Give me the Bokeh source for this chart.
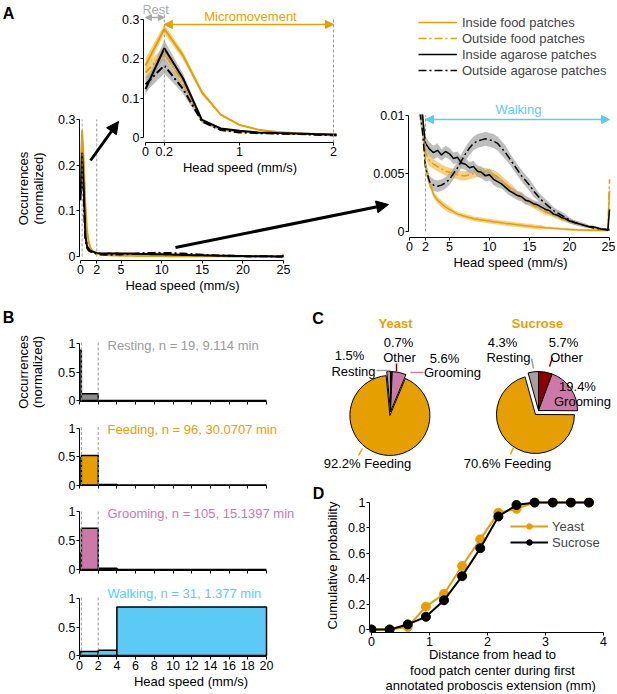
import math
from bokeh.plotting import figure
from bokeh.models import (Range1d, FixedTicker, PrintfTickFormatter, Label, Arrow,
                          NormalHead, Legend, LegendItem, GridBox, Column)
from bokeh.embed import file_html
from bokeh.resources import INLINE

# ---------------- data ----------------
speed = [0.0, 0.2, 0.4, 0.6, 0.8, 1.0, 1.2, 1.4, 1.6, 1.8,
         2.0, 2.5, 3.0, 3.5, 4.0, 4.5, 5.0, 5.5, 6.0, 6.5, 7.0, 7.5, 8.0, 8.5, 9.0, 9.5,
         10.0, 10.5, 11.0, 11.5, 12.0, 12.5, 13.0, 13.5, 14.0, 14.5, 15.0, 15.5, 16.0, 16.5,
         17.0, 17.5, 18.0, 18.5, 19.0, 19.5, 20.0, 20.5, 21.0, 21.5, 22.0, 22.5, 23.0, 23.5,
         24.0, 24.5, 24.8, 25.0]
inside_food = [0.183, 0.276, 0.208, 0.115, 0.058, 0.032, 0.020, 0.014, 0.0105, 0.0085,
               0.0058, 0.0042, 0.0032, 0.0027, 0.0024, 0.0021, 0.0019, 0.0017, 0.0015, 0.0014, 0.0013, 0.0012, 0.0011, 0.00105, 0.0010, 0.00095,
               0.0009, 0.00085, 0.0008, 0.00075, 0.0007, 0.00066, 0.00062, 0.00058, 0.00054, 0.0005, 0.00046, 0.00042, 0.00039, 0.00036,
               0.00033, 0.0003, 0.00027, 0.00025, 0.00022, 0.0002, 0.00018, 0.00016, 0.00014, 0.00013, 0.00012, 0.00011, 0.0001, 0.0001,
               0.0001, 0.0001, 0.0001, 0.0035]
inside_food_sem = [0.018, 0.012, 0.010, 0.006, 0.003, 0.002, 0.0015, 0.001, 0.0006, 0.0005,
                   0.0004, 0.0003, 0.0003, 0.0003, 0.0003, 0.0003, 0.0003, 0.0002, 0.0002, 0.0002, 0.0002, 0.0002, 0.0002, 0.0002, 0.0002, 0.0002,
                   0.0002, 0.0002, 0.0002, 0.0002, 0.0002, 0.0002, 0.0002, 0.0002, 0.0002, 0.0002, 0.0002, 0.0002, 0.0002, 0.0002,
                   0.0001, 0.0001, 0.0001, 0.0001, 0.0001, 0.0001, 0.0001, 0.0001, 0.0001, 0.0001, 0.0001, 0.0001, 0.0001, 0.0001,
                   0.0001, 0.0001, 0.0001, 0.0003]
outside_food = [0.165, 0.215, 0.140, 0.042, 0.021, 0.015, 0.012, 0.0105, 0.0095, 0.0082,
                0.0068, 0.0061, 0.0058, 0.0056, 0.0054, 0.0052, 0.0051, 0.0050, 0.0049, 0.0048, 0.0048, 0.0049, 0.0050, 0.0051, 0.0051, 0.0051,
                0.0050, 0.0049, 0.0047, 0.0044, 0.0041, 0.0038, 0.0035, 0.0032, 0.0030, 0.0027, 0.0025, 0.0023, 0.0021, 0.0019,
                0.0017, 0.00155, 0.0014, 0.00125, 0.0011, 0.0010, 0.0009, 0.0008, 0.0007, 0.0006, 0.0005, 0.00045, 0.0004, 0.0003,
                0.00025, 0.0002, 0.0002, 0.0045]
outside_food_sem = [0.020, 0.015, 0.010, 0.004, 0.002, 0.0015, 0.001, 0.0008, 0.0006, 0.0005,
                    0.0005, 0.0005, 0.0004, 0.0004, 0.0004, 0.0004, 0.0004, 0.0004, 0.0004, 0.0004, 0.0004, 0.0004, 0.0004, 0.0004, 0.0004, 0.0004,
                    0.0004, 0.0004, 0.0004, 0.0004, 0.0004, 0.0004, 0.0004, 0.0003, 0.0003, 0.0003, 0.0003, 0.0003, 0.0003, 0.0003,
                    0.0003, 0.0002, 0.0002, 0.0002, 0.0002, 0.0002, 0.0002, 0.0002, 0.0001, 0.0001, 0.0001, 0.0001, 0.0001, 0.0001,
                    0.0001, 0.0001, 0.0001, 0.0008]
inside_agarose = [0.123, 0.227, 0.150, 0.045, 0.023, 0.017, 0.013, 0.0115, 0.0102, 0.0088,
                  0.0076, 0.0071, 0.0068, 0.0070, 0.0066, 0.0069, 0.0067, 0.0063, 0.0064, 0.0059, 0.0058, 0.0055, 0.0056, 0.0052, 0.0051, 0.0048,
                  0.0049, 0.0045, 0.0043, 0.0041, 0.0038, 0.0035, 0.0033, 0.0031, 0.0030, 0.0027, 0.0026, 0.0024, 0.0023, 0.0021,
                  0.0019, 0.0018, 0.0015, 0.0014, 0.0012, 0.0011, 0.0009, 0.0008, 0.0007, 0.0006, 0.0005, 0.0004, 0.0004, 0.0003,
                  0.0002, 0.0002, 0.0001, 0.0019]
inside_agarose_sem = [0.015, 0.020, 0.012, 0.004, 0.002, 0.0015, 0.001, 0.0008, 0.0006, 0.0005,
                      0.0006, 0.0006, 0.0006, 0.0006, 0.0005, 0.0005, 0.0005, 0.0005, 0.0005, 0.0005, 0.0005, 0.0005, 0.0005, 0.0005, 0.0005, 0.0005,
                      0.0005, 0.0005, 0.0005, 0.0004, 0.0004, 0.0004, 0.0004, 0.0004, 0.0004, 0.0004, 0.0003, 0.0003, 0.0003, 0.0003,
                      0.0003, 0.0003, 0.0002, 0.0002, 0.0002, 0.0002, 0.0002, 0.0002, 0.0002, 0.0001, 0.0001, 0.0001, 0.0001, 0.0001,
                      0.0001, 0.0001, 0.0001, 0.0003]
outside_agarose = [0.135, 0.183, 0.123, 0.041, 0.019, 0.013, 0.011, 0.0098, 0.0088, 0.0072,
                   0.0055, 0.0043, 0.0040, 0.0039, 0.0040, 0.0042, 0.0045, 0.0050, 0.0055, 0.0061, 0.0067, 0.0072, 0.0076, 0.0078, 0.0079, 0.0080,
                   0.0079, 0.0078, 0.0076, 0.0072, 0.0068, 0.0063, 0.0058, 0.0053, 0.0048, 0.0044, 0.0040, 0.0035, 0.0031, 0.0027,
                   0.0024, 0.0021, 0.0018, 0.0016, 0.0014, 0.0012, 0.0010, 0.0008, 0.0007, 0.0006, 0.0005, 0.0004, 0.0003, 0.00025,
                   0.0002, 0.00015, 0.00015, 0.00015]
outside_agarose_sem = [0.020, 0.020, 0.012, 0.004, 0.002, 0.0015, 0.001, 0.0008, 0.0006, 0.0005,
                       0.0005, 0.0005, 0.0005, 0.0005, 0.0005, 0.0005, 0.0005, 0.0005, 0.0005, 0.0006, 0.0006, 0.0006, 0.0006, 0.0006, 0.0006, 0.0006,
                       0.0006, 0.0006, 0.0006, 0.0006, 0.0006, 0.0005, 0.0005, 0.0005, 0.0005, 0.0005, 0.0005, 0.0005, 0.0004, 0.0004,
                       0.0004, 0.0004, 0.0003, 0.0003, 0.0003, 0.0003, 0.0002, 0.0002, 0.0002, 0.0002, 0.0002, 0.0001, 0.0001, 0.0001,
                       0.0001, 0.0001, 0.0001, 0.0001]
thresholds = [0.2, 2.0]
series_names = ["Inside food patches", "Outside food patches", "Inside agarose patches", "Outside agarose patches"]

bin_left = [0.0, 0.2, 2.0, 4.0]
bin_right = [0.2, 2.0, 4.0, 20.0]
resting_hist = [0.88, 0.12, 0.0, 0.0]
feeding_hist = [0.48, 0.52, 0.01, 0.0]
grooming_hist = [0.28, 0.71, 0.02, 0.0]
walking_hist = [0.07, 0.07, 0.09, 0.85]
behav_names = ["Resting", "Feeding", "Grooming", "Walking"]
behav_n = [19, 96, 105, 31]
behav_min = ["9.114", "30.0707", "15.1397", "1.377"]

pie_cats = ["Other", "Grooming", "Feeding", "Resting"]
yeast_pct = [0.7, 5.6, 92.2, 1.5]
sucrose_pct = [5.7, 19.4, 70.6, 4.3]

dist_mm = [0.0, 0.3125, 0.625, 0.9375, 1.25, 1.5625, 1.875, 2.1875, 2.5, 2.8125, 3.125, 3.4375, 3.75]
yeast_cum = [0.0, 0.0, 0.02, 0.18, 0.28, 0.50, 0.71, 0.92, 0.95, 1.0, 1.0, 1.0, 1.0]
sucrose_cum = [0.0, 0.0, 0.04, 0.10, 0.23, 0.42, 0.64, 0.89, 0.98, 1.0, 1.0, 1.0, 1.0]

# ---------------- style ----------------
FONT = "Liberation Sans"
TXT = "13px"
TICK = "12.5px"
ORANGE = "#E69F00"
ORANGE_BAND = "#F2C35A"
GRAY_BAND = "#A3A3A3"
PINK = "#CC79A7"
BLUE = "#5BCBF5"
DARKRED = "#8B0000"
PIE_GRAY = "#A0A0A0"
DASHGRAY = "#9A9A9A"
DASHDOT = "8 3 2 3"
pie_colors = [DARKRED, PINK, ORANGE, PIE_GRAY]

W, H = 615, 692
NAN = float("nan")


def lin(p0, v0, p1, v1, p):
    return v0 + (p - p0) * (v1 - v0) / (p1 - p0)


figs = []


def make(box, frame, xmap, ymap, register=True, **kw):
    L, T, R, B = box
    fl, ft, fr, fb = frame
    bl, bt = max(0, round(L)), max(0, round(T))
    br, bb = min(W, round(R)), min(H, round(B))
    l, t, r, b = round(fl), round(ft), round(fr), round(fb)
    fx = lambda X: lin(*xmap, X)
    fy = lambda Y: lin(*ymap, Y)
    p = figure(width=br - bl, height=bb - bt,
               min_border_left=l - bl, min_border_right=br - r,
               min_border_top=t - bt, min_border_bottom=bb - b,
               x_range=Range1d(fx(l), fx(r)), y_range=Range1d(fy(b), fy(t)),
               output_backend="svg", toolbar_location=None, **kw)
    p.background_fill_color = None
    p.border_fill_color = None
    p.outline_line_color = None
    p.grid.visible = False
    entry = (p, bl, bt, br, bb)
    if register:
        figs.append(entry)
    return p, fx, fy, entry


def style_axis(ax, ticks, bounds, labels=True, label=None):
    if labels:
        ax.ticker = FixedTicker(ticks=ticks)
        ax.major_tick_out = 3
        ax.minor_tick_line_color = None
    else:
        ax.ticker = FixedTicker(ticks=[], minor_ticks=ticks)
        ax.minor_tick_out = 3
        ax.minor_tick_in = 0
        ax.minor_tick_line_color = "black"
    ax.formatter = PrintfTickFormatter(format="%g")
    ax.bounds = bounds
    ax.major_tick_in = 0
    ax.axis_line_color = "black"
    ax.axis_line_width = 1
    ax.major_tick_line_color = "black"
    ax.major_label_text_font = FONT
    ax.major_label_text_font_size = TICK
    ax.major_label_text_color = "black"
    ax.major_label_standoff = 1
    if label:
        ax.axis_label = label
        ax.axis_label_text_font = FONT
        ax.axis_label_text_font_size = TXT
        ax.axis_label_text_font_style = "normal"
        ax.axis_label_text_color = "black"
        ax.axis_label_standoff = 1


def txt(p, x, y, s, color="black", size=TXT, align="center", baseline="middle", angle=0, style="normal"):
    p.add_layout(Label(x=x, y=y, text=s, text_color=color, text_font=FONT, text_font_size=size,
                       text_align=align, text_baseline=baseline, angle=angle, text_font_style=style))


def draw_speed(p, lw):
    def lo(m, s):
        return [a - b for a, b in zip(m, s)]

    def hi(m, s):
        return [a + b for a, b in zip(m, s)]
    p.varea(x=speed, y1=lo(inside_food, inside_food_sem), y2=hi(inside_food, inside_food_sem),
            fill_color=ORANGE_BAND, fill_alpha=0.75)
    p.varea(x=speed, y1=lo(outside_food, outside_food_sem), y2=hi(outside_food, outside_food_sem),
            fill_color=ORANGE_BAND, fill_alpha=0.75)
    p.varea(x=speed, y1=lo(inside_agarose, inside_agarose_sem), y2=hi(inside_agarose, inside_agarose_sem),
            fill_color=GRAY_BAND, fill_alpha=0.7)
    p.varea(x=speed, y1=lo(outside_agarose, outside_agarose_sem), y2=hi(outside_agarose, outside_agarose_sem),
            fill_color=GRAY_BAND, fill_alpha=0.7)
    p.line(speed, inside_food, line_color=ORANGE, line_width=lw)
    p.line(speed, outside_food, line_color=ORANGE, line_width=lw, line_dash=DASHDOT)
    p.line(speed, inside_agarose, line_color="black", line_width=lw)
    p.line(speed, outside_agarose, line_color="black", line_width=lw, line_dash=DASHDOT)


# overlay (created first, registered last so it sits on top); its units are page pixels
pO, fxO, fyO, overlay_entry = make((0, 0, W, H), (0, 0, W, H), (0, 0, 1, 1), (0, 0, 1, 1),
                                   register=False, x_axis_location=None, y_axis_location=None)

# ---------------- Panel A: main ----------------
pA, fxA, fyA, _ = make((0, 100, 300, 300), (79, 116, 285, 260), (80, 0, 283, 25), (256, 0, 119, 0.3))
draw_speed(pA, 2)
pA.segment(x0=thresholds, y0=[0, 0], x1=thresholds, y1=[0.3, 0.3], line_color=DASHGRAY, line_dash="3 2", line_width=1)
style_axis(pA.xaxis[0], [0, 2, 5, 10, 15, 20, 25], (0, 25), label="Head speed (mm/s)")
style_axis(pA.yaxis[0], [0, 0.1, 0.2, 0.3], (0, 0.3))
txt(pO, 23, 188, "Occurrences", angle=math.pi / 2)
txt(pO, 38, 188, "(normalized)", angle=math.pi / 2)

# ---------------- Panel A: inset ----------------
pI, fxI, fyI, _ = make((100, 0, 345, 182), (143, 1, 336, 142), (145, 0, 333, 2), (137, 0, 19, 0.3))
draw_speed(pI, 2)
pI.segment(x0=thresholds, y0=[fyI(142), fyI(142)], x1=thresholds, y1=[fyI(12), fyI(17)],
           line_color=DASHGRAY, line_dash="3 2", line_width=1)
style_axis(pI.xaxis[0], [0, 0.2, 1, 2], (0, 2), label="Head speed (mm/s)")
style_axis(pI.yaxis[0], [0, 0.1, 0.2, 0.3], (0, 0.3))
pI.add_layout(Arrow(x_start=0, y_start=fyI(17), x_end=thresholds[0], y_end=fyI(17),
                    line_color="#A8A8A8", line_width=1.5,
                    start=NormalHead(size=6, fill_color="#A8A8A8", line_color="#A8A8A8"),
                    end=NormalHead(size=6, fill_color="#A8A8A8", line_color="#A8A8A8")))
pI.add_layout(Arrow(x_start=thresholds[0], y_start=fyI(24), x_end=thresholds[1], y_end=fyI(24),
                    line_color=ORANGE, line_width=1.5,
                    start=NormalHead(size=8, fill_color=ORANGE, line_color=ORANGE),
                    end=NormalHead(size=8, fill_color=ORANGE, line_color=ORANGE)))
txt(pI, fxI(155), fyI(9), "Rest", color="#A8A8A8")
txt(pI, fxI(250), fyI(16), "Micromovement", color=ORANGE)

# ---------------- Panel A: walking zoom ----------------
pR, fxR, fyR, _ = make((340, 8, W, 280), (408, 114, 612, 237), (409, 0, 609, 25), (231, 0, 115, 0.01))
draw_speed(pR, 1.5)
pR.segment(x0=[thresholds[1]], y0=[0], x1=[thresholds[1]], y1=[0.01], line_color=DASHGRAY, line_dash="3 2", line_width=1)
style_axis(pR.xaxis[0], [0, 2, 5, 10, 15, 20, 25], (0, 25), label="Head speed (mm/s)")
style_axis(pR.yaxis[0], [0, 0.005, 0.01], (0, 0.01))
pR.add_layout(Arrow(x_start=thresholds[1], y_start=fyR(119), x_end=25, y_end=fyR(119),
                    line_color=BLUE, line_width=1.5,
                    start=NormalHead(size=8, fill_color=BLUE, line_color=BLUE),
                    end=NormalHead(size=8, fill_color=BLUE, line_color=BLUE)))
txt(pO, 518, 109, "Walking", color=BLUE)

# legend for panel A (legend glyphs only, placed on the overlay)
leg_styles = [(ORANGE, "solid"), (ORANGE, DASHDOT), ("black", "solid"), ("black", DASHDOT)]
leg_rs = [pO.line(x=[NAN], y=[NAN], line_color=c, line_width=1.5, line_dash=d) for c, d in leg_styles]
legA = Legend(items=[LegendItem(label=n, renderers=[r]) for n, r in zip(series_names, leg_rs)],
              location=(418, H - 78),
              glyph_width=39, glyph_height=14, label_height=16,
              label_standoff=5, spacing=0, padding=0, margin=0,
              label_text_font=FONT, label_text_font_size=TXT,
              border_line_color=None, background_fill_alpha=0)
pO.add_layout(legA)

# ---------------- Panel B ----------------
B_specs = [
    (resting_hist, (303, 412), (334, 401), (400, 343), "#8C8C8C", "#9A9A9A", 345),
    (feeding_hist, (412, 495), (418, 485), (484.5, 428), ORANGE, ORANGE, 429),
    (grooming_hist, (495, 580), (502, 570), (569, 511), PINK, PINK, 513),
    (walking_hist, (580, H), (588, 656), (655, 598), BLUE, BLUE, 593),
]
for i, (hist, (bt_, bb_), (ft_, fb_), (y0p, y1p), fill, tcol, ty) in enumerate(B_specs):
    p, fx, fy, _ = make((0, bt_, 305, bb_), (79, ft_, 302, fb_), (79, 0, 266, 20), (y0p, 0, y1p, 1))
    p.quad(left=bin_left, right=bin_right, bottom=[0] * len(hist), top=hist,
           fill_color=fill, line_color="black", line_width=1.5)
    p.segment(x0=thresholds, y0=[0, 0], x1=thresholds, y1=[1.03, 1.03], line_color=DASHGRAY, line_dash="3 2", line_width=1)
    last = i == 3
    style_axis(p.xaxis[0], list(range(0, 21, 2)), (0, 20), labels=last,
               label="Head speed (mm/s)" if last else None)
    style_axis(p.yaxis[0], [0, 0.5, 1], (0, 1))
    txt(p, fx(107), fy(ty), f"{behav_names[i]}, n = {behav_n[i]}, {behav_min[i]} min",
        color=tcol, align="left")
txt(pO, 23, 371.5, "Occurrences", angle=math.pi / 2)
txt(pO, 37, 371.5, "(normalized)", angle=math.pi / 2)

# ---------------- Panel C ----------------
pC, fxC, fyC, _ = make((300, 300, W, 472), (300, 300, W, 472), (300, 300, 615, 615), (472, 0, 300, 172),
                       x_axis_location=None, y_axis_location=None)


def draw_pie(p, cx, cy, r, pct, explode_idx, gap):
    total = sum(pct)
    c = 0.0
    for k, v in enumerate(pct):
        c0, c1 = c / total, (c + v) / total
        c += v
        a_start = math.pi / 2 - 2 * math.pi * c1
        a_end = math.pi / 2 - 2 * math.pi * c0
        ox = oy = 0.0
        if k == explode_idx:
            mid = (a_start + a_end) / 2
            ox, oy = gap * math.cos(mid), gap * math.sin(mid)
        p.wedge(x=[cx + ox], y=[cy + oy], radius=r, start_angle=a_start, end_angle=a_end,
                fill_color=pie_colors[k], line_color="black", line_width=1)


draw_pie(pC, fxC(390), fyC(411), 40, yeast_pct, 2, 4)
draw_pie(pC, fxC(538), fyC(410), 39, sucrose_pct, 2, 5)
txt(pC, fxC(395), fyC(323), "Yeast", color=ORANGE, style="bold")
txt(pC, fxC(537), fyC(323), "Sucrose", color=ORANGE, style="bold")
# yeast labels
txt(pC, fxC(398), fyC(342), f"{yeast_pct[0]}%")
txt(pC, fxC(399), fyC(357), pie_cats[0])
txt(pC, fxC(349), fyC(355), f"{yeast_pct[3]}%")
txt(pC, fxC(353), fyC(371), pie_cats[3])
txt(pC, fxC(444), fyC(358), f"{yeast_pct[1]}%")
txt(pC, fxC(452), fyC(372), pie_cats[1])
txt(pC, fxC(367), fyC(463), f"{yeast_pct[2]}% {pie_cats[2]}")
# sucrose labels
txt(pC, fxC(502), fyC(342), f"{sucrose_pct[3]}%")
txt(pC, fxC(508), fyC(357), pie_cats[3])
txt(pC, fxC(563), fyC(342), f"{sucrose_pct[0]}%")
txt(pC, fxC(566), fyC(357), pie_cats[0])
txt(pC, fxC(577), fyC(386), f"{sucrose_pct[1]}%")
txt(pC, fxC(582), fyC(401), pie_cats[1])
txt(pC, fxC(507), fyC(463), f"{sucrose_pct[2]}% {pie_cats[2]}")
# leader lines
lead = [((376, 370), (390, 370), PIE_GRAY), ((396, 363), (396, 371), DARKRED),
        ((410, 372), (423, 372), PINK), ((362, 448), (358, 455), ORANGE),
        ((531, 358), (533, 368), PIE_GRAY), ((552, 357), (549, 366), DARKRED),
        ((513, 447), (510, 454), ORANGE)]
pC.segment(x0=[fxC(a[0]) for a, b, c in lead], y0=[fyC(a[1]) for a, b, c in lead],
           x1=[fxC(b[0]) for a, b, c in lead], y1=[fyC(b[1]) for a, b, c in lead],
           line_color=[c for a, b, c in lead], line_width=1.5)

# ---------------- Panel D ----------------
pD, fxD, fyD, _ = make((300, 472, W, H), (369, 497, 605, 632), (371, 0, 603, 4), (629, 0, 502, 1))
ly = pD.line(dist_mm, yeast_cum, line_color=ORANGE, line_width=2)
sy = pD.scatter(dist_mm, yeast_cum, size=9, fill_color=ORANGE, line_color=ORANGE)
lsu = pD.line(dist_mm, sucrose_cum, line_color="black", line_width=2)
ssu = pD.scatter(dist_mm, sucrose_cum, size=9, fill_color="black", line_color="black")
style_axis(pD.xaxis[0], [0, 1, 2, 3, 4], (0, 4))
style_axis(pD.yaxis[0], [0, 0.2, 0.4, 0.6, 0.8, 1], (0, 1))
txt(pO, 332, 565, "Cumulative probability", angle=math.pi / 2)
txt(pO, 492, 654, "Distance from head to")
txt(pO, 492, 670, "food patch center during first")
txt(pO, 492, 685, "annotated proboscis extension  (mm)")
legD = Legend(items=[LegendItem(label="Yeast", renderers=[ly, sy]),
                     LegendItem(label="Sucrose", renderers=[lsu, ssu])],
              location=(510 - 369, 632 - 550),
              glyph_width=38, glyph_height=14, label_height=16,
              label_standoff=4, spacing=0, padding=0, margin=0,
              label_text_font=FONT, label_text_font_size=TXT,
              border_line_color=None, background_fill_alpha=0)
pD.add_layout(legD)

# ---------------- overlay content: arrows and panel letters ----------------
pO.add_layout(Arrow(x_start=90, y_start=160, x_end=118, y_end=121, line_color="black", line_width=3,
                    end=NormalHead(size=12, fill_color="black", line_color="black")))
pO.add_layout(Arrow(x_start=175, y_start=247, x_end=388, y_end=204, line_color="black", line_width=3,
                    end=NormalHead(size=12, fill_color="black", line_color="black")))
for letter, X, Y in [("A", 8, 12.5), ("B", 8, 317), ("C", 317.5, 318), ("D", 318, 493)]:
    txt(pO, X, Y, letter, size="16px", style="bold")
figs.append(overlay_entry)

# ---------------- grid layout ----------------
xs = sorted({0, W} | {v for f in figs for v in (f[1], f[3])})
ys = sorted({0, H} | {v for f in figs for v in (f[2], f[4])})
cols = [f"{xs[i + 1] - xs[i]}px" for i in range(len(xs) - 1)]
rows = [f"{ys[i + 1] - ys[i]}px" for i in range(len(ys) - 1)]
children = []
for p, bl, bt, br, bb in figs:
    r0, c0 = ys.index(bt), xs.index(bl)
    children.append((Column(children=[p], width=br - bl, height=bb - bt),
                     r0, c0, ys.index(bb) - r0, xs.index(br) - c0))
grid = GridBox(children=children, rows=rows, cols=cols, spacing=0, width=W, height=H)

open("out.html", "w").write(file_html(grid, INLINE))
